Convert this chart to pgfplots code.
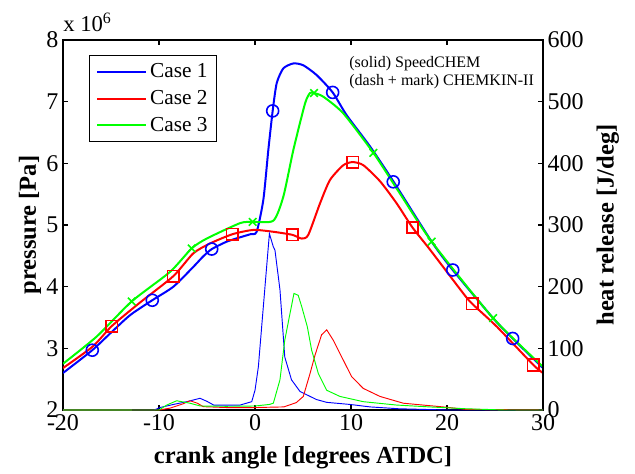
\documentclass[border=0pt]{standalone}
\usepackage{fontspec}
\setmainfont{Liberation Serif}
\usepackage{pgfplots}
\pgfplotsset{compat=1.18}
\definecolor{mblue}{rgb}{0,0,1}
\definecolor{mred}{rgb}{1,0,0}
\definecolor{mgreen}{rgb}{0,1,0}
\definecolor{molive}{rgb}{0.27,0.52,0.14}
\pgfplotsset{
  common/.style={
    scale only axis, width=360pt, height=277.5pt,
    xmin=-20, xmax=30,
    tick align=inside, major tick length=4pt,
    axis line style={line width=0.9pt},
    every tick/.style={black, line width=0.8pt},
    tick label style={font=\fontsize{18}{20}\selectfont},
    /pgf/number format/assume math mode=true,
    label style={font=\fontsize{18.4}{20}\selectfont\bfseries},
  }
}
\begin{document}
\begin{tikzpicture}
\begin{axis}[common, name=ax,
  ymin=2, ymax=8,
  xtick={-20,-10,...,30}, ytick={2,3,...,8},
  xtick pos=both, ytick pos=left,
  xlabel={crank angle [degrees ATDC]}, ylabel={pressure [Pa]},
  xlabel style={at={(axis description cs:0.5,-0.13)}, anchor=center},
  ylabel style={at={(axis description cs:-0.069,0.5)}, anchor=center},
  legend style={at={(rel axis cs:0.054,0.959)}, anchor=north west, draw=black, line width=0.8pt,
    font=\fontsize{16}{18}\selectfont, inner xsep=5pt, inner ysep=4pt, row sep=4pt,
    cells={anchor=west}},
  legend image code/.code={\draw[#1] (0pt,0pt) -- (37pt,0pt);},
]
% SpeedCHEM (solid)
\addplot[mblue, line width=1.5pt, smooth, tension=0.4] coordinates {
(-20,2.60) (-16.95,2.97) (-15.1,3.24) (-13,3.54) (-10.7,3.78) (-8.5,4.0) (-6.43,4.32) (-5.4,4.49)
(-4.5,4.61) (-2.95,4.73) (-1.56,4.80) (-0.5,4.85) (0.17,4.89) (0.87,5.41) (1.39,6.22) (1.84,6.85)
(2.26,7.30) (2.95,7.54) (4.0,7.62) (5.03,7.59) (6.43,7.43) (8.09,7.15) (9.55,6.78) (12.0,6.27)
(14.4,5.71) (18.4,4.73) (20.6,4.27) (24.8,3.49) (26.84,3.16) (30,2.68)};
\addlegendentry{Case 1}
\addplot[mred, line width=1.5pt, smooth, tension=0.4] coordinates {
(-20,2.68) (-16.9,3.03) (-14.93,3.36) (-12,3.74) (-8.51,4.17) (-6.43,4.54) (-4.69,4.70) (-2.36,4.85)
(-0.17,4.92) (1.91,4.89) (3.9,4.84) (4.86,4.78) (5.55,4.84) (6.77,5.35) (7.81,5.73) (9.2,5.97)
(10.18,6.02) (11.28,5.97) (13.02,5.71) (14.76,5.35) (16.4,4.96) (18.23,4.6) (21.7,3.89) (22.64,3.72)
(25.2,3.35) (29.0,2.73) (30,2.60)};
\addlegendentry{Case 2}
\addplot[mgreen, line width=1.5pt, smooth, tension=0.4] coordinates {
(-20,2.75) (-16.5,3.19) (-12.85,3.76) (-8.85,4.24) (-6.6,4.62) (-5.03,4.78) (-1.56,5.03) (-0.24,5.05)
(1.91,5.07) (2.95,5.46) (4.0,6.22) (5.21,6.97) (5.73,7.14) (6.15,7.14) (7.12,7.08) (9.2,6.81)
(12.33,6.17) (15.1,5.51) (18.4,4.73) (24.8,3.49) (30,2.70)};
\addlegendentry{Case 3}
% CHEMKIN-II (marks)
\addplot[forget plot, only marks, mblue, mark=o, mark size=4.5pt, mark options={line width=1.2pt}] coordinates {
(-16.95,2.97) (-10.7,3.78) (-4.51,4.61) (1.84,6.85) (8.09,7.15) (14.4,5.70) (20.6,4.27) (26.84,3.16)};
\addplot[forget plot, only marks, mred, mark=square, mark size=4.3pt, mark options={line width=1.2pt}] coordinates {
(-14.93,3.36) (-8.51,4.17) (-2.36,4.85) (3.9,4.84) (10.18,6.02) (16.4,4.96) (22.64,3.72) (29.0,2.73)};
\addplot[forget plot, only marks, mgreen, mark=x, mark size=4pt, mark options={line width=1.2pt}] coordinates {
(-12.85,3.76) (-6.6,4.62) (-0.24,5.05) (6.15,7.14) (12.33,6.17) (18.4,4.73) (24.8,3.49)};
\node[anchor=north west, align=left, inner sep=0pt, font=\fontsize{12}{13.5}\selectfont] at (rel axis cs:0.596,0.957)
  {(solid) SpeedCHEM\\(dash + mark) CHEMKIN-II};
\end{axis}
\begin{axis}[common,
  ymin=0, ymax=600, ytick={0,100,...,600},
  axis y line*=right, axis x line=none,
  ylabel={heat release [J/deg]},
  ylabel style={at={(axis description cs:1.135,0.5)}, anchor=center},
]
\addplot[molive, line width=0.9pt] coordinates {(-20,0) (-12.8,0)};
\addplot[mblue, line width=0.7pt] coordinates {
(-12.8,0) (-10.5,0) (-9.9,4) (-8.5,9) (-7.1,13.5) (-5.73,19) (-5.0,14) (-4.3,8) (-1.56,8) (-0.34,13.5)
(0.0,32) (0.35,70) (0.87,168) (1.5,286) (1.9,265) (2.08,259) (2.6,195) (3.1,86) (3.8,49) (4.69,30)
(6.4,17) (7.47,12.4) (9.9,9) (12,5) (15,2) (20,0) (30,0)};
\addplot[mred, line width=0.7pt] coordinates {
(-12.8,0) (-10,0) (-8.85,3) (-7.5,10) (-6.77,15) (-6.0,11) (-5.4,5.4) (-3,4) (0,4) (3,5) (4.3,12)
(5.03,22) (5.73,59) (6.25,89) (6.94,122) (7.47,130) (8.16,113) (9.03,86) (10.07,54) (11.28,35)
(13.02,22) (15.45,11) (18.2,7) (19.6,5) (22,1) (30,0)};
\addplot[mgreen, line width=0.7pt] coordinates {
(-12.8,0) (-10,0) (-9.2,8) (-8.16,15) (-6.77,11) (-5.7,6.5) (-3,6) (0,6.5) (1.5,9) (1.91,11) (2.6,49)
(3.1,113) (3.65,157) (4.06,189) (4.5,186) (4.86,168) (5.45,135) (5.9,97) (6.6,59) (7.47,32)
(8.85,22) (11.28,13.5) (14.76,8) (18.2,5) (22,2) (26,0) (30,0)};
\end{axis}
\node[anchor=base west, inner sep=0pt, font=\fontsize{17}{19}\selectfont] at ([yshift=6pt]ax.north west) {x 10\textsuperscript{6}};
\pgfresetboundingbox
\path[use as bounding box] ([shift={(-47.25pt,-47.25pt)}]ax.south west) rectangle ([shift={(69pt,30pt)}]ax.north east);
\end{tikzpicture}
\end{document}
